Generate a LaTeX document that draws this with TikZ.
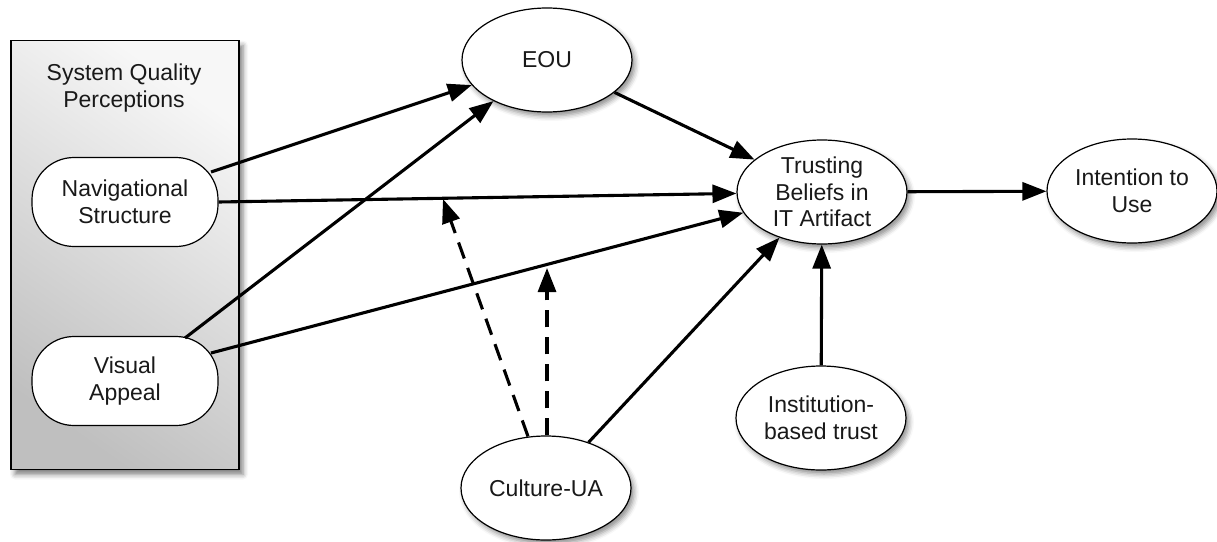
\documentclass[tikz,border=0pt]{standalone}
\usepackage{fontspec}
\setmainfont{Liberation Sans}
\usetikzlibrary{arrows.meta,shapes.geometric,shadows.blur,calc}

\tikzset{
  lbl/.style={font=\fontsize{23}{26.5}\selectfont, align=center, text=black!90},
  oval/.style={ellipse, draw=black, line width=1.2pt, fill=white,
    minimum width=170pt, minimum height=104pt, inner sep=0pt,
    blur shadow={shadow xshift=3pt, shadow yshift=-4pt, shadow blur radius=5pt, shadow opacity=45}, lbl},
  pill/.style={rectangle, rounded corners=42pt, draw=black, line width=1.2pt, fill=white,
    minimum width=186pt, minimum height=89pt, inner sep=0pt, lbl},
  link/.style={line width=3.1pt, -{Triangle[length=24pt,width=18pt]}},
  modlink/.style={link, dash pattern=on 17pt off 10pt}
}

\begin{document}
\begin{tikzpicture}[x=1pt,y=-1pt]
  \useasboundingbox (0,0) rectangle (1217,541);

  % construct group for the two system quality factors
  \node[draw=black, line width=1.3pt, minimum width=228pt, minimum height=429pt, inner sep=0pt,
        top color=gray!6, bottom color=gray!50, shading angle=-35,
        blur shadow={shadow xshift=4pt, shadow yshift=-5pt, shadow blur radius=5pt, shadow opacity=50}]
        (sq) at (125,255) {};
  \node[lbl] (sqlabel) at (124,88) {System Quality\\Perceptions};

  \node[pill] (nav) at (125,202) {Navigational\\Structure};
  \node[pill] (vis) at (125,381) {Visual\\Appeal};

  % latent constructs
  \node[oval] (eou)   at (547,60)   {EOU};
  \node[oval] (trust) at (822,192)  {Trusting\\Beliefs in\\IT Artifact};
  \node[oval] (use)   at (1132,191) {Intention to\\Use};
  \node[oval] (cul)   at (546,488)  {Culture-UA};
  \node[oval] (inst)  at (821,418)  {Institution-\\based trust};

  % direct effects
  \draw[link] ($(nav.center)+(86,-30)$) -- (eou);
  \draw[link] ($(vis.center)+(60,-43)$) -- (eou);
  \draw[link] (nav.east) -- (trust);
  \draw[link] ($(vis.center)+(86,-28)$) -- (trust);
  \draw[link] (eou) -- (trust);
  \draw[link] (cul) -- (trust);
  \draw[link] (inst) -- (trust);
  \draw[link] (trust) -- (use);

  % moderating effects of uncertainty avoidance
  \coordinate (m1) at (443,199);
  \coordinate (m2) at (547,268);
  \draw[modlink] ($(cul.north)+(-18,1)$) -- (m1);
  \draw[modlink] ($(cul.north)+(1,0)$) -- (m2);
\end{tikzpicture}
\end{document}
